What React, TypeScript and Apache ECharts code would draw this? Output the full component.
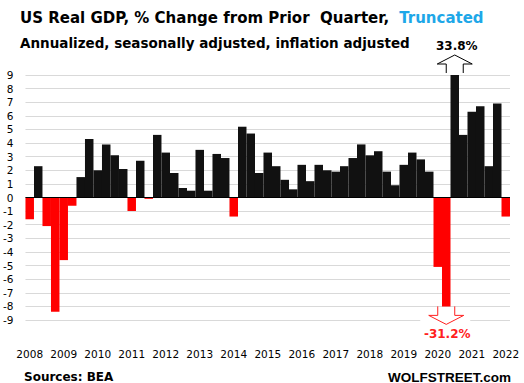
import React, { useEffect, useRef } from "react";
import * as echarts from "echarts";

const years = ["2008","2009","2010","2011","2012","2013","2014","2015","2016","2017","2018","2019","2020","2021","2022"];
const quarterNames = ["Q1", "Q2", "Q3", "Q4"];
const categories = years.flatMap((y) => quarterNames.map((q) => `${y} ${q}`)).slice(0, 57);

// plotted values (two 2020 quarters truncated at the axis)
const values = [
  -1.6, 2.3, -2.1, -8.4,
  -4.6, -0.6, 1.5, 4.3,
  2.0, 3.9, 3.1, 2.1,
  -1.0, 2.7, -0.1, 4.6,
  3.3, 1.8, 0.7, 0.5,
  3.5, 0.5, 3.2, 2.9,
  -1.4, 5.2, 4.7, 1.8,
  3.3, 2.3, 1.3, 0.6,
  2.4, 1.2, 2.4, 2.0,
  1.9, 2.3, 2.9, 3.9,
  3.1, 3.4, 1.9, 0.9,
  2.4, 3.3, 2.8, 1.9,
  -5.1, -8, 9, 4.6,
  6.3, 6.7, 2.3, 6.9,
  -1.4,
];

const truncatedIndex = [49, 50];
const truncatedLabels = ["-31.2%", "33.8%"];

const yTicks = { min: -9, max: 9, interval: 1 };

const FONT = "DejaVu Sans";

export default function App() {
  const ref = useRef<HTMLDivElement>(null);
  useEffect(() => {
    if (!ref.current) return;
    const chart = echarts.init(ref.current, null, { renderer: "svg" });
    const option: any = {
      animation: false,
      backgroundColor: "#ffffff",
      title: [
        {
          text: "{a|US Real GDP, % Change from Prior  Quarter,}  {b|Truncated}",
          left: 15,
          top: 4,
          textStyle: {
            rich: {
              a: { fontFamily: FONT, fontWeight: "bold", fontSize: 15, color: "#000" },
              b: { fontFamily: FONT, fontWeight: "bold", fontSize: 15, color: "#1ea7e8" },
            },
          },
        },
        {
          text: "Annualized, seasonally adjusted, inflation adjusted",
          left: 15,
          top: 31,
          textStyle: { fontFamily: FONT, fontWeight: "bold", fontSize: 13.5, color: "#000" },
        },
        {
          text: "Sources: BEA",
          left: 19,
          top: 366,
          textStyle: { fontFamily: FONT, fontWeight: "bold", fontSize: 12, color: "#000" },
        },
        {
          text: "WOLFSTREET.com",
          right: 8,
          top: 365,
          textStyle: { fontFamily: "Liberation Sans", fontWeight: "bold", fontSize: 13.5, color: "#000" },
        },
      ],
      grid: { left: 23, right: 14, top: 75, bottom: 63 },
      xAxis: {
        type: "category",
        data: categories,
        boundaryGap: true,
        axisLine: { show: false },
        axisTick: { show: false },
        axisLabel: {
          interval: (i: number) => i % 4 === 0,
          formatter: (v: string) => v.slice(0, 4),
          fontFamily: FONT,
          fontSize: 10.5,
          color: "#000",
          margin: 28,
        },
        splitLine: { show: false },
      },
      yAxis: {
        type: "value",
        min: yTicks.min,
        max: yTicks.max,
        interval: yTicks.interval,
        axisLine: { show: false },
        axisTick: { show: false },
        axisLabel: { fontFamily: FONT, fontSize: 10.5, color: "#000", margin: 12 },
        splitLine: { lineStyle: { color: "#d9d9d9", width: 1 } },
      },
      series: [
        {
          type: "bar",
          data: values.map((v) => ({ value: v, itemStyle: { color: v < 0 ? "#ff0000" : "#111111" } })),
          barCategoryGap: "0%",
          markLine: {
            silent: true,
            symbol: ["none", "none"],
            label: { show: false },
            lineStyle: { color: "#000", width: 1, type: "solid" },
            data: [{ yAxis: 0 }],
          },
        },
      ],
    };
    chart.setOption(option);

    const graphics: any[] = [];
    truncatedIndex.forEach((idx, k) => {
      const v = values[idx];
      const [cx, cy] = chart.convertToPixel({ gridIndex: 0 }, [idx, v]);
      if (v > 0) {
        const base = cy - 2;
        graphics.push({
          type: "polyline",
          shape: {
            points: [
              [cx - 8.5, base], [cx - 8.5, base - 9], [cx - 17.5, base - 9], [cx, base - 18],
              [cx + 17.5, base - 9], [cx + 8.5, base - 9], [cx + 8.5, base],
            ],
          },
          style: { stroke: "#000", lineWidth: 1, fill: null },
          z: 10,
        });
        graphics.push({
          type: "text",
          x: cx + 2,
          y: base - 27,
          style: {
            text: truncatedLabels[k],
            fontFamily: FONT, fontWeight: "bold", fontSize: 12, fill: "#000",
            align: "center", verticalAlign: "middle",
          },
          z: 10,
        });
      } else {
        const top = cy;
        graphics.push({
          type: "rect",
          shape: { x: cx - 26, y: top + 1, width: 50, height: 36 },
          style: { fill: "#fff" },
          z: 9,
        });
        graphics.push({
          type: "polyline",
          shape: {
            points: [
              [cx - 8.5, top], [cx - 8.5, top + 9], [cx - 17.5, top + 9], [cx, top + 18],
              [cx + 17.5, top + 9], [cx + 8.5, top + 9], [cx + 8.5, top],
            ],
          },
          style: { stroke: "#ff2020", lineWidth: 1, fill: null },
          z: 10,
        });
        graphics.push({
          type: "text",
          x: cx + 1,
          y: top + 28,
          style: {
            text: truncatedLabels[k],
            fontFamily: FONT, fontWeight: "bold", fontSize: 12, fill: "#ff2020",
            align: "center", verticalAlign: "middle",
          },
          z: 10,
        });
      }
    });
    chart.setOption({ graphic: graphics });

    return () => chart.dispose();
  }, []);
  return <div ref={ref} style={{ width: 524, height: 383, position: "absolute", left: 0, top: 0 }} />;
}
